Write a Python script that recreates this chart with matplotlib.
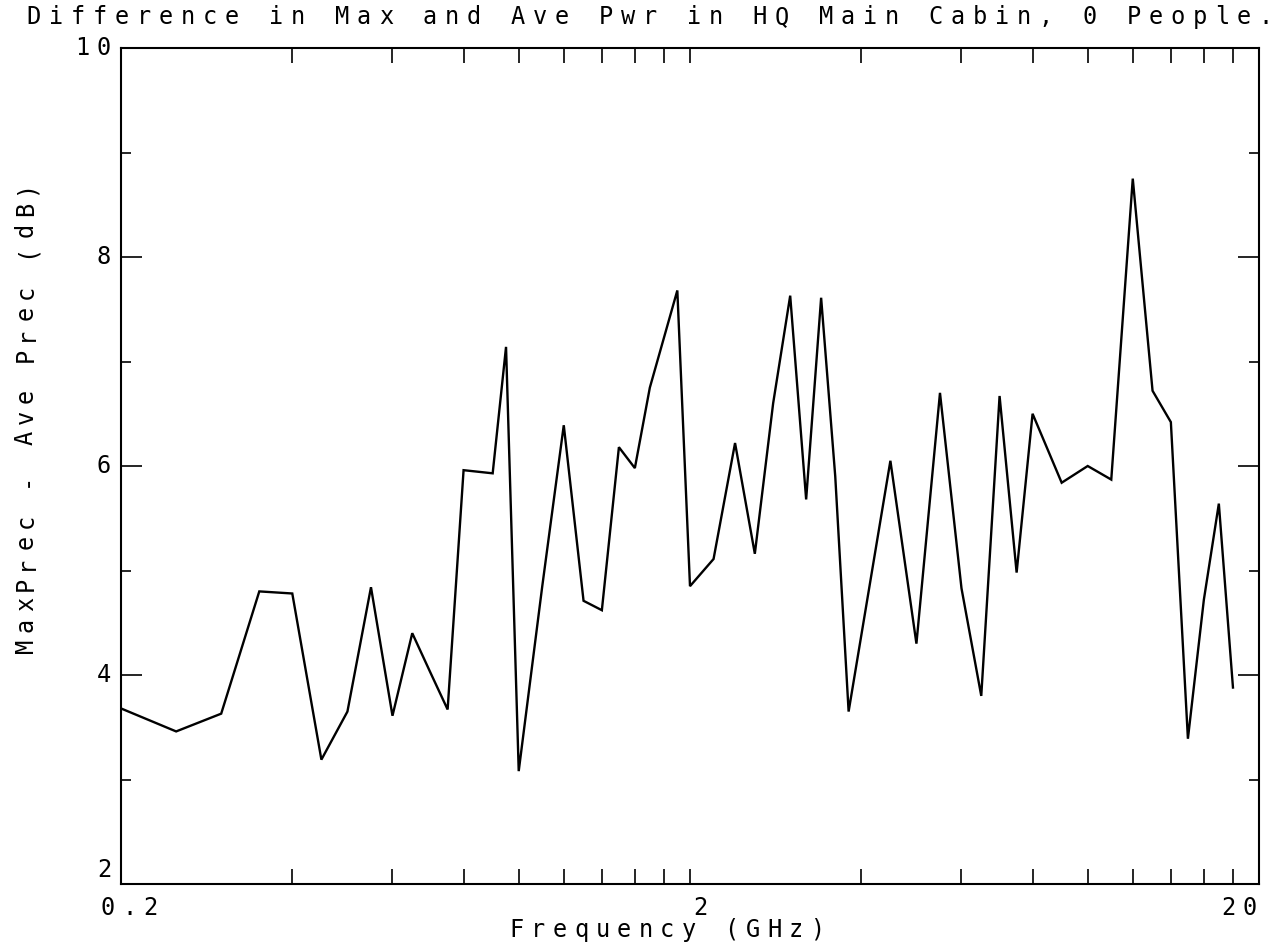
import matplotlib
matplotlib.use("Agg")
import matplotlib.pyplot as plt
from matplotlib.transforms import blended_transform_factory, offset_copy

# Measured difference between peak and average received power, HQ main cabin
freq_ghz = [0.20, 0.25, 0.30, 0.35, 0.40, 0.45, 0.50, 0.55, 0.60, 0.65,
            0.70, 0.75, 0.80, 0.90, 0.95, 1.00, 1.10, 1.20, 1.30, 1.40,
            1.50, 1.60, 1.70, 1.90, 2.00, 2.20, 2.40, 2.60, 2.80, 3.00,
            3.20, 3.40, 3.60, 3.80, 4.50, 5.00, 5.50, 6.00, 6.50, 7.00,
            7.50, 8.00, 9.00, 10.0, 11.0, 12.0, 13.0, 14.0, 15.0, 16.0,
            17.0, 18.0]
diff_db = [3.68, 3.46, 3.63, 4.80, 4.78, 3.19, 3.65, 4.84, 3.61, 4.40,
           4.02, 3.67, 5.96, 5.93, 7.14, 3.08, 4.85, 6.39, 4.71, 4.62,
           6.18, 5.98, 6.75, 7.68, 4.85, 5.11, 6.22, 5.16, 6.60, 7.63,
           5.68, 7.61, 5.90, 3.65, 6.05, 4.30, 6.70, 4.83, 3.80, 6.67,
           4.98, 6.50, 5.84, 6.00, 5.87, 8.75, 6.72, 6.42, 3.39, 4.72,
           5.64, 3.88]

x_major = [0.2, 2, 20]
x_major_labels = ["0.2", "2", "20"]
x_minor = [0.4, 0.6, 0.8, 1.0, 1.2, 1.4, 1.6, 1.8,
           4, 6, 8, 10, 12, 14, 16, 18]
y_major = [2, 4, 6, 8, 10]
y_major_labels = ["2", "4", "6", "8", "10"]
y_minor = [3, 5, 7, 9]

title = "Difference in Max and Ave Pwr in HQ Main Cabin, 0 People."
xlabel = "Frequency (GHz)"
ylabel = "MaxPrec - Ave Prec (dB)"

W, H, DPI = 1278, 948, 100
FONT = "DejaVu Sans Mono"
FS = 17
PITCH = 21.5

fig = plt.figure(figsize=(W / DPI, H / DPI), dpi=DPI)
fig.patch.set_facecolor("white")

# plot frame in pixel units
left, right, top, bottom = 121, 1259, 48, 884
ax = fig.add_axes([left / W, 1 - bottom / H, (right - left) / W, (bottom - top) / H])

ax.plot(freq_ghz, diff_db, color="black", lw=1.7, solid_joinstyle="miter")

ax.set_xscale("log")
ax.set_xlim(0.2, 20)
ax.set_ylim(2, 10)

ax.set_xticks(x_major)
ax.set_xticks(x_minor, minor=True)
ax.set_yticks(y_major)
ax.set_yticks(y_minor, minor=True)
ax.tick_params(which="both", labelbottom=False, labelleft=False)

for sp in ax.spines.values():
    sp.set_linewidth(1.5)

ax.tick_params(axis="x", which="both", direction="in", top=True, bottom=True,
               length=11, width=1.2)
ax.tick_params(axis="y", which="major", direction="in", left=True, right=True,
               length=15, width=1.2)
ax.tick_params(axis="y", which="minor", direction="in", left=True, right=True,
               length=7.5, width=1.2)


def put_chars(s, trans, x, y, offsets, **kw):
    """Place each character of s at (x, y) in trans, shifted by pixel offsets."""
    for ch, (dx, dy) in zip(s, offsets):
        fig.text(x, y, ch, transform=offset_copy(trans, fig=fig, x=dx, y=dy, units="dots"),
                 fontsize=FS, family=FONT, **kw)


def centered_offsets(n, pitch, dx=0.0, dy=0.0, vertical=False):
    if vertical:
        return [(dx, dy + (i - (n - 1) / 2) * pitch) for i in range(n)]
    return [(dx + (i - (n - 1) / 2) * pitch, dy) for i in range(n)]


# x tick labels, plotter style: fixed pitch, end labels pulled inward
x_label_shift = {"0.2": 8, "2": 10, "20": -20}
xtrans = blended_transform_factory(ax.transData, ax.transAxes)
for val, lab in zip(x_major, x_major_labels):
    offs = centered_offsets(len(lab), PITCH, dx=x_label_shift[lab], dy=-31)
    put_chars(lab, xtrans, val, 0, offs, ha="center", va="baseline")

# y tick labels, right-aligned against the frame
ytrans = blended_transform_factory(ax.transAxes, ax.transData)
for val, lab in zip(y_major, y_major_labels):
    n = len(lab)
    dy = 14 if lab == "2" else 0
    offs = [(-17 - (n - 1 - i) * PITCH, dy) for i in range(n)]
    put_chars(lab, ytrans, 0, val, offs, ha="center", va="center")

# title and axis titles in figure pixel space
pix = fig.transFigure
put_chars(title, pix, 0, 1, centered_offsets(len(title), 22.0, dx=650, dy=-24),
          ha="center", va="baseline")
put_chars(xlabel, pix, 0, 0, centered_offsets(len(xlabel), PITCH, dx=667, dy=948 - 937),
          ha="center", va="baseline")
put_chars(ylabel, pix, 0, 0, centered_offsets(len(ylabel), 20.8, dx=33, dy=948 - 417, vertical=True),
          ha="center", va="baseline", rotation=90, rotation_mode="anchor")

fig.savefig("out.png", dpi=DPI, facecolor="white")
